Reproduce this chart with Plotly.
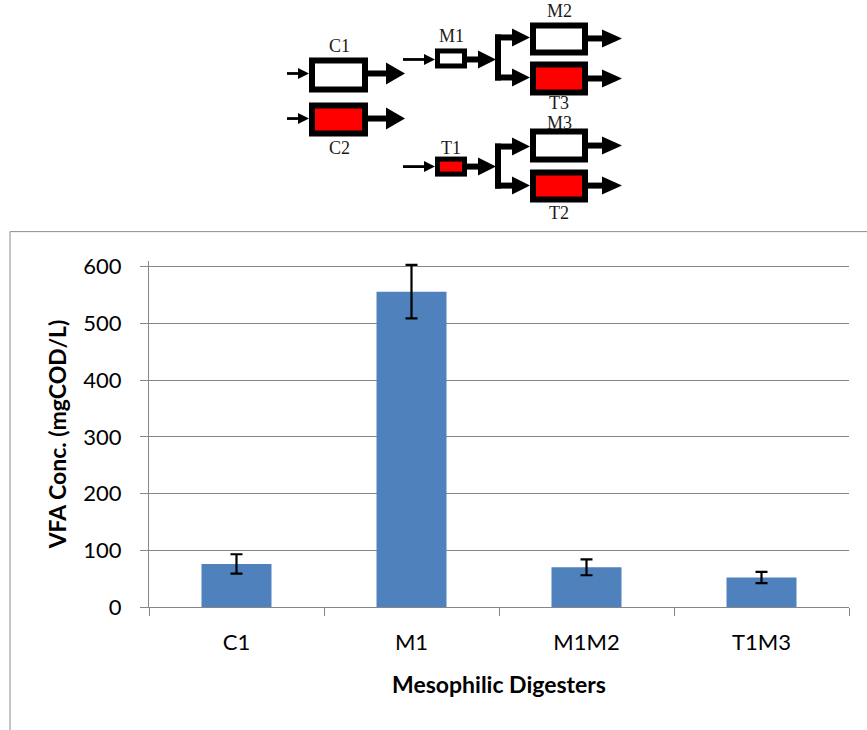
import plotly.graph_objects as go

# ---- data ----
categories = ["C1", "M1", "M1M2", "T1M3"]
vfa_values = [76, 556, 70, 52]
vfa_errors = [17, 47, 14, 10]
y_ticks = [0, 100, 200, 300, 400, 500, 600]
y_range = [0, 610]
x_title = "Mesophilic Digesters"
y_title = "VFA Conc. (mgCOD/L)"

W, H = 867, 730
BOTTOM_PX = 607
PX_PER_UNIT = 340 / 600
L, R, B = 149, 18, H - BOTTOM_PX
PH = (y_range[1] - y_range[0]) * PX_PER_UNIT
T = H - B - PH
PW = W - L - R


def px(x, y):
    return (x - L) / PW, (BOTTOM_PX - y) / PH


shapes = []
annotations = []


def rect(x0, y0, x1, y1, fill, line_color=None, lw=0, layer="above"):
    a = px(x0, y1)
    b = px(x1, y0)
    shapes.append(dict(type="rect", xref="paper", yref="paper", x0=a[0], y0=a[1], x1=b[0], y1=b[1],
                       fillcolor=fill, line=dict(color=line_color or fill, width=lw), layer=layer))


def line(x0, y0, x1, y1, w, color="black"):
    a = px(x0, y0)
    b = px(x1, y1)
    shapes.append(dict(type="line", xref="paper", yref="paper", x0=a[0], y0=a[1], x1=b[0], y1=b[1],
                       line=dict(color=color, width=w)))


def tri(x_base, x_tip, y, hh):
    p1 = px(x_base, y - hh)
    p2 = px(x_tip, y)
    p3 = px(x_base, y + hh)
    path = f"M {p1[0]} {p1[1]} L {p2[0]} {p2[1]} L {p3[0]} {p3[1]} Z"
    shapes.append(dict(type="path", xref="paper", yref="paper", path=path,
                       fillcolor="black", line=dict(color="black", width=0)))


def thin_arrow(x0, x1, y):
    line(x0, y, x1 - 8, y, 2.8)
    tri(x1 - 11, x1, y, 5.5)


def thick_arrow(x0, x1, y, hl=19, hh=10):
    line(x0, y, x1 - hl + 1, y, 6)
    tri(x1 - hl, x1, y, hh)


def box(x0, y0, x1, y1, inner, bw=6):
    rect(x0, y0, x1, y1, "black")
    rect(x0 + bw, y0 + bw, x1 - bw, y1 - bw, inner)


def label(x, y, text):
    ax, ay = px(x, y)
    annotations.append(dict(xref="paper", yref="paper", x=ax, y=ay, text=text, showarrow=False,
                            xanchor="center", yanchor="middle",
                            font=dict(family="Liberation Serif", size=18, color="#1a1a1a")))


# chart frame border
rect(10, 232, 900, 760, "rgba(0,0,0,0)", "#8c8c8c", 1, layer="below")

RED = "#ff0000"
# C1 / C2
box(309, 58, 368, 93, "white")
thin_arrow(287, 309, 74)
thick_arrow(368, 405, 74, hh=11)
label(339, 47, "C1")
box(309, 103, 368, 137, RED)
thin_arrow(287, 309, 119)
thick_arrow(368, 405, 119, hh=11)
label(339, 148, "C2")

# M1 branch
box(435, 49, 467, 69, "white", bw=5)
thin_arrow(403, 435, 60)
thick_arrow(467, 496, 60, hl=18, hh=9)
label(451, 37, "M1")
line(498, 35, 498, 81, 6)
thick_arrow(495, 530, 38, hl=18, hh=9)
thick_arrow(495, 530, 78, hl=18, hh=9)
box(530, 23, 588, 56, "white")
box(530, 62, 588, 96, RED)
thick_arrow(588, 622, 39, hl=20, hh=9)
thick_arrow(588, 622, 79, hl=20, hh=9)
label(559, 12, "M2")
label(559, 103, "T3")

# T1 branch
box(435, 157, 467, 177, RED, bw=5)
thin_arrow(403, 435, 167)
thick_arrow(467, 496, 167, hl=18, hh=9)
label(451, 148, "T1")
line(498, 144, 498, 189, 6)
thick_arrow(495, 530, 147, hl=18, hh=9)
thick_arrow(495, 530, 186, hl=18, hh=9)
box(530, 129, 588, 163, "white")
box(530, 170, 588, 203, RED)
thick_arrow(588, 622, 146, hl=20, hh=9)
thick_arrow(588, 622, 186, hl=20, hh=9)
label(559, 123, "M3")
label(559, 213, "T2")

fig = go.Figure()
fig.add_trace(go.Bar(
    x=categories, y=vfa_values,
    marker=dict(color="#4f81bd", line=dict(color="#4f81bd", width=0)),
    error_y=dict(type="data", array=vfa_errors, color="black", thickness=2.2, width=6),
    width=0.4, cliponaxis=False,
))

grid_col = "#868686"
fig.update_layout(
    width=W, height=H,
    margin=dict(l=L, r=R, t=T, b=B),
    paper_bgcolor="white", plot_bgcolor="white",
    showlegend=False,
    shapes=shapes, annotations=annotations,
    font=dict(family="Lato", color="black"),
)
fig.update_xaxes(
    type="category", showline=True, linecolor=grid_col, linewidth=1.3,
    ticks="outside", tickson="boundaries", ticklen=8, tickcolor=grid_col, tickwidth=1.3,
    ticklabelstandoff=15,
    tickfont=dict(family="Lato", size=22, color="black"),
    title=dict(text=x_title, font=dict(family="Lato", size=23, weight="bold", color="black"), standoff=23),
    showgrid=False, range=[-0.5, 3.5],
)
fig.update_yaxes(
    range=y_range, tickvals=y_ticks, showgrid=True, gridcolor=grid_col, gridwidth=1.3,
    showline=True, linecolor=grid_col, linewidth=1.3, zeroline=False,
    ticks="outside", ticklen=8, tickcolor=grid_col, tickwidth=1.3,
    ticklabelstandoff=14,
    tickfont=dict(family="Lato", size=22, color="black"),
    title=dict(text=y_title, font=dict(family="Lato", size=23, weight="bold", color="black"), standoff=10),
)

fig.write_html("out.html")
